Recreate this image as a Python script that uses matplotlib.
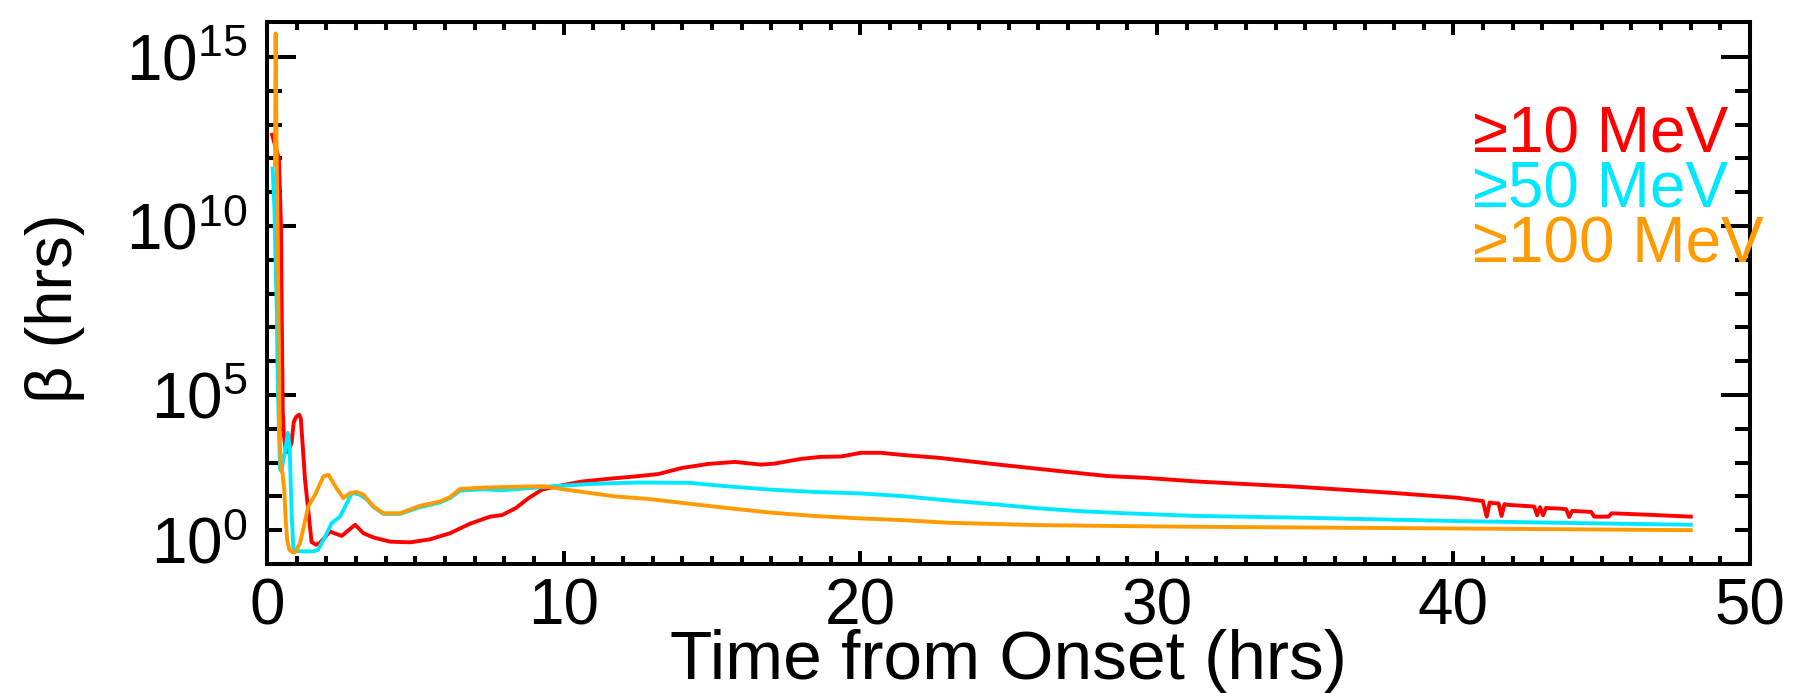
import numpy as np
import matplotlib
matplotlib.use('Agg')
import matplotlib.pyplot as plt
from matplotlib.ticker import FixedLocator, FixedFormatter

plt.rcParams['font.family'] = ['Liberation Sans', 'DejaVu Sans']
plt.rcParams['mathtext.fontset'] = 'custom'
plt.rcParams['mathtext.rm'] = 'Liberation Sans'

# time from onset (hrs) and log10(beta)
t_10 = [0.17, 0.40, 0.47, 0.50, 0.53, 0.57, 0.64, 0.75, 0.83, 0.90, 0.98, 1.08, 1.14,
        1.28, 1.40, 1.50, 1.65, 1.78, 2.12, 2.30, 2.52, 2.75, 2.97, 3.25, 3.60, 4.15,
        4.82, 5.50, 6.17, 6.84, 7.52, 7.93, 8.38, 8.82, 9.27, 9.72, 10.62, 11.51,
        12.41, 13.19, 13.98, 14.87, 15.77, 16.66, 17.11, 18.00, 18.68, 19.35, 20.02,
        20.69, 21.37, 22.66, 24.46, 26.70, 28.35, 29.60, 31.35, 34.83, 38.00, 40.13,
        40.99, 41.12, 41.22, 41.35, 41.52, 41.62, 41.72, 41.82, 42.72, 42.82, 42.92,
        43.02, 43.12, 43.22, 43.58, 43.80, 43.90, 44.00, 44.64, 44.75, 45.23, 45.33,
        46.75, 48.00]
logb_10 = [12.7, 12.0, 10.0, 7.0, 4.5, 3.8, 3.3, 3.4, 3.6, 4.2, 4.35, 4.42, 4.3,
           2.5, 1.5, 0.65, 0.57, 0.62, 0.96, 0.90, 0.83, 1.0, 1.16, 0.91, 0.78, 0.66,
           0.64, 0.73, 0.91, 1.19, 1.40, 1.45, 1.65, 1.95, 2.2, 2.29, 2.44, 2.52,
           2.59, 2.66, 2.84, 2.96, 3.02, 2.94, 2.97, 3.11, 3.17, 3.18, 3.29,
           3.29, 3.23, 3.14, 2.96, 2.75, 2.60, 2.55, 2.44, 2.28, 2.10, 1.96,
           1.86, 1.40, 1.82, 1.80, 1.79, 1.42, 1.77, 1.75, 1.70, 1.44, 1.68,
           1.44, 1.66, 1.65, 1.64, 1.62, 1.39, 1.57, 1.54, 1.40, 1.40, 1.50,
           1.45, 1.40]

t_50 = [0.19, 0.25, 0.30, 0.33, 0.36, 0.40, 0.44, 0.49, 0.55, 0.61, 0.70, 0.76, 0.83,
        0.89, 1.00, 1.56, 1.72, 1.96, 2.18, 2.46, 2.69, 2.86, 3.10, 3.35, 3.59, 3.93,
        4.48, 5.16, 5.83, 6.17, 6.51, 7.29, 7.93, 9.48, 10.97, 12.47, 14.27, 15.47,
        16.97, 18.46, 19.96, 21.40, 22.96, 24.46, 25.96, 27.45, 28.95, 31.35, 34.83,
        40.13, 44.10, 48.00]
logb_50 = [11.7, 10.5, 8.5, 7.5, 5.5, 4.0, 2.8, 2.74, 3.1, 3.33, 3.88, 3.5, 1.5,
           0.42, 0.38, 0.37, 0.42, 0.81, 1.21, 1.40, 1.80, 2.10, 2.06, 1.92, 1.68, 1.48,
           1.48, 1.68, 1.82, 1.95, 2.17, 2.21, 2.18, 2.29, 2.37, 2.41, 2.40, 2.30,
           2.20, 2.13, 2.09, 2.01, 1.88, 1.77, 1.65, 1.56, 1.50, 1.42, 1.37,
           1.27, 1.21, 1.16]

t_100 = [0.27, 0.29, 0.32, 0.36, 0.40, 0.43, 0.46, 0.52, 0.58, 0.63, 0.68, 0.75, 0.83,
         0.94, 1.11, 1.39, 1.62, 1.90, 2.07, 2.30, 2.57, 2.80, 3.02, 3.25, 3.59, 3.93,
         4.48, 5.16, 5.83, 6.17, 6.51, 7.29, 8.19, 9.30, 10.07, 11.72, 12.91, 13.97,
         15.47, 16.97, 18.46, 19.96, 21.37, 22.96, 25.96, 28.95, 31.35, 34.83, 40.13,
         48.00]
logb_100 = [11.8, 15.7, 12.5, 9.5, 6.5, 3.8, 2.95, 2.7, 2.2, 1.3, 0.7, 0.42, 0.36,
            0.34, 0.61, 1.70, 2.05, 2.59, 2.64, 2.30, 1.95, 2.10, 2.13, 2.05, 1.70, 1.50,
            1.50, 1.72, 1.85, 1.98, 2.22, 2.26, 2.28, 2.30, 2.20, 2.00, 1.92, 1.81,
            1.66, 1.52, 1.42, 1.35, 1.30, 1.22, 1.15, 1.12, 1.10, 1.08, 1.05,
            1.00]

series_labels = ['\u226510 MeV', '\u226550 MeV', '\u2265100 MeV']
series_colors = ['#FF0000', '#00E8FF', '#FF9A00']

x_major = [0, 10, 20, 30, 40, 50]
y_major_exp = [0, 5, 10, 15]

fig = plt.figure(figsize=(17.97, 6.93), dpi=100)
ax = fig.add_axes([0.1486, 0.1862, 0.8253, 0.7821])

series = [(t_10, logb_10), (t_50, logb_50), (t_100, logb_100)]
for (t, lb), c in zip(series, series_colors):
    ax.plot(t, 10.0 ** np.array(lb), color=c, lw=2.8)

ax.set_yscale('log')
ax.set_xlim(0, 50)
ax.set_ylim(1, 10 ** 16.04)

# axis ticks, IDL style: inward on all four sides
ax.xaxis.set_major_locator(FixedLocator(x_major))
ax.xaxis.set_minor_locator(FixedLocator(np.arange(0, 51, 1)))
ax.yaxis.set_major_locator(FixedLocator([10.0 ** e for e in y_major_exp]))
ax.yaxis.set_minor_locator(FixedLocator([10.0 ** e for e in range(1, 16) if e % 5]))
ax.yaxis.set_major_formatter(FixedFormatter(
    [r'$\mathregular{10^{%d}}$' % e for e in y_major_exp]))
ax.yaxis.set_minor_formatter(FixedFormatter([]))

ax.tick_params(which='both', direction='in', top=True, right=True, width=2.9, color='black')
ax.tick_params(axis='x', which='major', length=9.5, labelsize=46, pad=10)
ax.tick_params(axis='x', which='minor', length=5.5)
ax.tick_params(axis='y', which='major', length=21, labelsize=46, pad=14)
ax.tick_params(axis='y', which='minor', length=10.5)
for s in ax.spines.values():
    s.set_linewidth(2.9)

ax.set_xlabel('Time from Onset (hrs)', fontsize=50)
ax.xaxis.set_label_coords(0.5, -0.212)
ax.xaxis.label.set_va('baseline')
ax.set_ylabel('\u03b2 (hrs)', fontsize=47)
ax.yaxis.set_label_coords(-0.143, 0.472)
ax.yaxis.label.set_va('center')

# bottom y label sits above its tick in the original
fig.canvas.draw()
ax.yaxis.get_major_ticks()[0].label1.set_va('baseline')

# energy labels
for i, (lab, c) in enumerate(zip(series_labels, series_colors)):
    ax.text(0.8132, 0.7583 - i * 0.1015, lab, color=c, fontsize=46,
            transform=ax.transAxes, ha='left', va='baseline')

fig.savefig('out.png', dpi=100)
